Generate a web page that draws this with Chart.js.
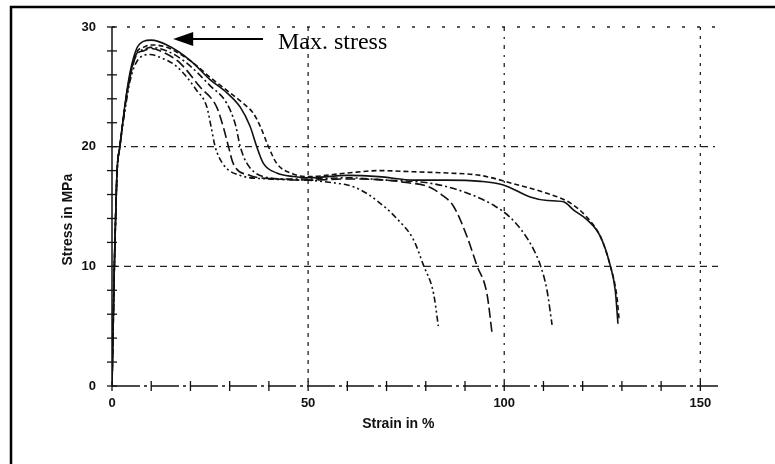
<!DOCTYPE html>
<html>
<head>
<meta charset="utf-8">
<script src="https://cdn.jsdelivr.net/npm/chart.js@4.4.1/dist/chart.umd.min.js"></script>
<style>
  body { margin: 0; background: #fff; }
  canvas { display: block; }
</style>
</head>
<body>
<canvas id="stressChart" width="775" height="464"></canvas>
<script>
// specimen curves (strain in %, stress in MPa)
const strain1 = [0, 0.3, 0.6, 1, 1.3, 2, 3.3, 4.6, 6.3, 8, 10, 14, 20, 25, 29.3, 32.7, 35.2, 36.9, 38.6, 42, 46.3, 50, 60, 68, 77, 85, 94, 99.8, 106.6, 111, 115.1, 117.7, 121.1, 124.5, 127, 128.3, 129];
const stress1 = [0, 5, 10, 15, 18, 20, 23.5, 26.2, 28.2, 28.8, 28.9, 28.5, 27.2, 25.6, 24.5, 23.3, 21.7, 20, 18.6, 17.8, 17.5, 17.4, 17.6, 17.5, 17.2, 17.2, 17.1, 16.8, 15.8, 15.5, 15.4, 14.7, 13.9, 12.5, 10.1, 8, 5.2];

const strain2 = [0, 0.3, 0.6, 1, 1.3, 2, 3.3, 4.6, 6.3, 8, 10, 14, 20.7, 25, 29.3, 33.5, 36, 37.8, 39.9, 42, 46.3, 50, 60, 68.4, 77, 85.4, 93.9, 102.4, 110.9, 116.8, 121.1, 124.5, 127, 128.7, 129.3];
const stress2 = [0, 5, 10, 15, 18, 20, 23.4, 26, 27.9, 28.3, 28.5, 28.3, 27, 25.8, 24.7, 23.6, 22.8, 21.7, 20, 18.6, 17.7, 17.5, 17.8, 18, 17.9, 17.8, 17.6, 16.9, 16.1, 15.3, 14.1, 12.5, 10.1, 7.5, 5.5];

const strain3 = [0, 0.3, 0.6, 1, 1.3, 2, 3.3, 4.6, 6.3, 8, 9.8, 14, 19, 25, 29.3, 31.5, 32.7, 34.4, 38.6, 45, 50, 60, 70, 80, 87.1, 93, 97.3, 101.5, 104.9, 107.5, 109.2, 110.9, 112.2];
const stress3 = [0, 5, 10, 15, 18, 20, 23.3, 25.9, 27.8, 28.1, 28.3, 28, 27, 25.1, 23.6, 21.8, 20, 18.6, 17.5, 17.3, 17.3, 17.4, 17.2, 17, 16.5, 15.8, 15.1, 14.1, 12.8, 11.4, 10.1, 8, 5.1];

const strain4 = [0, 0.3, 0.6, 1, 1.3, 2, 3.3, 4.6, 6.3, 8, 10, 13, 17.3, 22.4, 26.7, 28.5, 29.7, 30.9, 35.2, 42, 50, 60, 70, 75, 80.3, 84, 87.1, 90.5, 93, 95.6, 96.9];
const stress4 = [0, 5, 10, 15, 18, 20, 23.3, 25.8, 27.7, 28, 28.2, 27.9, 27, 25, 23.3, 21.5, 20, 18.6, 17.6, 17.3, 17.2, 17.3, 17.2, 17, 16.7, 16, 15, 12.5, 10.1, 7.7, 4.4];

const strain5 = [0, 0.3, 0.6, 1, 1.3, 2, 3.3, 4.6, 6.5, 9.7, 12, 16.5, 21.6, 24.2, 25.3, 26.3, 28.4, 32.7, 40, 50, 56, 60, 63.3, 67.5, 72.6, 76.9, 79.4, 82, 83.2];
const stress5 = [0, 5, 10, 15, 18, 20, 23, 25.5, 27.2, 27.7, 27.5, 26.7, 24.7, 23.3, 21.6, 20, 18.5, 17.6, 17.3, 17.2, 17, 16.8, 16.4, 15.5, 14, 12.2, 10.1, 7.7, 5];

const xTickValues = [0, 50, 100, 150];
const yTickValues = [0, 10, 20, 30];
const guideStrains = [50, 100, 150];
const guideStresses = [10, 20, 30];

function toPoints(xs, ys) {
    return xs.map((v, i) => ({ x: v, y: ys[i] }));
}

const curveStyles = [
    [],
    [5, 3],
    [7, 3, 2, 3],
    [10, 4],
    [6, 3, 2, 3, 2, 3]
];
const curves = [[strain1, stress1], [strain2, stress2], [strain3, stress3], [strain4, stress4], [strain5, stress5]];

const datasets = curves.map((c, i) => ({
    data: toPoints(c[0], c[1]),
    borderColor: '#111',
    borderWidth: 1.6,
    borderDash: curveStyles[i],
    pointRadius: 0,
    fill: false,
    cubicInterpolationMode: 'monotone'
}));

const tickFont = { family: "'Liberation Sans Narrow', 'Liberation Sans', Arial, sans-serif", size: 13, weight: 'bold' };

// dashed guides, axis lines, tick marks, titles, arrow, frame
const paperPlugin = {
    id: 'paperPlugin',
    beforeDatasetsDraw(chart) {
        const { ctx, scales: { x, y } } = chart;
        const x0 = x.getPixelForValue(0);
        const y0 = y.getPixelForValue(0);
        ctx.save();
        ctx.strokeStyle = '#222';
        ctx.lineWidth = 1.3;

        const hDash = { 10: [7, 5], 20: [7, 5, 2, 5], 30: [3, 12] };
        guideStresses.forEach(v => {
            ctx.setLineDash(hDash[v]);
            ctx.beginPath();
            ctx.moveTo(x0, y.getPixelForValue(v));
            ctx.lineTo(x.right, y.getPixelForValue(v));
            ctx.stroke();
        });
        const vDash = { 50: [4, 5], 100: [4, 6, 2, 6], 150: [3, 6] };
        guideStrains.forEach(v => {
            ctx.setLineDash(vDash[v]);
            ctx.beginPath();
            ctx.moveTo(x.getPixelForValue(v), y.top);
            ctx.lineTo(x.getPixelForValue(v), y0);
            ctx.stroke();
        });

        // axes
        ctx.lineWidth = 1.5;
        ctx.strokeStyle = '#111';
        ctx.setLineDash([]);
        ctx.beginPath();
        ctx.moveTo(x0, y.top);
        ctx.lineTo(x0, y0);
        ctx.stroke();
        ctx.setLineDash([28, 4, 3, 4]);
        ctx.beginPath();
        ctx.moveTo(x0, y0);
        ctx.lineTo(x.right, y0);
        ctx.stroke();
        ctx.setLineDash([]);

        // minor tick marks
        ctx.lineWidth = 1.3;
        for (let v = 0; v <= 150; v += 10) {
            const px = x.getPixelForValue(v);
            ctx.beginPath();
            ctx.moveTo(px, y0 - 5);
            ctx.lineTo(px, y0 + 5);
            ctx.stroke();
        }
        for (let v = 0; v <= 30; v += 2) {
            const py = y.getPixelForValue(v);
            ctx.beginPath();
            ctx.moveTo(x0 - 5, py);
            ctx.lineTo(x0 + 5, py);
            ctx.stroke();
        }
        ctx.restore();
    },
    afterDraw(chart) {
        const { ctx, scales: { x, y } } = chart;
        ctx.save();
        ctx.fillStyle = '#111';
        ctx.font = "bold 14px 'Liberation Sans Narrow', 'Liberation Sans', Arial, sans-serif";
        ctx.textAlign = 'center';
        ctx.textBaseline = 'middle';
        ctx.fillText('Strain in %', x.getPixelForValue(73), 424);
        ctx.translate(68, y.getPixelForValue(13.9));
        ctx.rotate(-Math.PI / 2);
        ctx.fillText('Stress in MPa', 0, 0);
        ctx.restore();

        // Max. stress label with arrow
        ctx.save();
        const tipX = x.getPixelForValue(15.6), tipY = y.getPixelForValue(29);
        const tailX = x.getPixelForValue(38.5);
        ctx.strokeStyle = '#000';
        ctx.fillStyle = '#000';
        ctx.lineWidth = 2;
        ctx.beginPath();
        ctx.moveTo(tailX, tipY);
        ctx.lineTo(tipX + 18, tipY);
        ctx.stroke();
        ctx.beginPath();
        ctx.moveTo(tipX, tipY);
        ctx.lineTo(tipX + 20, tipY - 7);
        ctx.lineTo(tipX + 20, tipY + 7);
        ctx.closePath();
        ctx.fill();
        ctx.font = "24px 'Liberation Serif', 'Times New Roman', serif";
        ctx.textAlign = 'left';
        ctx.textBaseline = 'alphabetic';
        ctx.fillText('Max. stress', x.getPixelForValue(42.3), y.getPixelForValue(28.2));

        // page frame
        ctx.lineWidth = 2.5;
        ctx.beginPath();
        ctx.moveTo(11, 470);
        ctx.lineTo(11, 7);
        ctx.lineTo(780, 7);
        ctx.stroke();
        ctx.restore();
    }
};

const ctx = document.getElementById('stressChart').getContext('2d');
const stressChart = new Chart(ctx, {
    type: 'line',
    data: { datasets: datasets },
    options: {
        responsive: false,
        animation: false,
        layout: { padding: { left: 40, top: 27, right: 57, bottom: 0 } },
        plugins: {
            legend: { display: false },
            tooltip: { enabled: false }
        },
        scales: {
            x: {
                type: 'linear',
                min: 0,
                max: 154.5,
                grid: { display: false, drawTicks: false, tickLength: 0 },
                border: { display: false },
                ticks: { color: '#111', font: tickFont, padding: 10, maxRotation: 0 },
                afterBuildTicks: scale => { scale.ticks = xTickValues.map(v => ({ value: v })); },
                afterFit: scale => { scale.height = 78; }
            },
            y: {
                type: 'linear',
                min: 0,
                max: 30,
                grid: { display: false, drawTicks: false, tickLength: 0 },
                border: { display: false },
                ticks: { color: '#111', font: tickFont, padding: 16 },
                afterBuildTicks: scale => { scale.ticks = yTickValues.map(v => ({ value: v })); },
                afterFit: scale => { scale.width = 72; }
            }
        }
    },
    plugins: [paperPlugin]
});
</script>
</body>
</html>
